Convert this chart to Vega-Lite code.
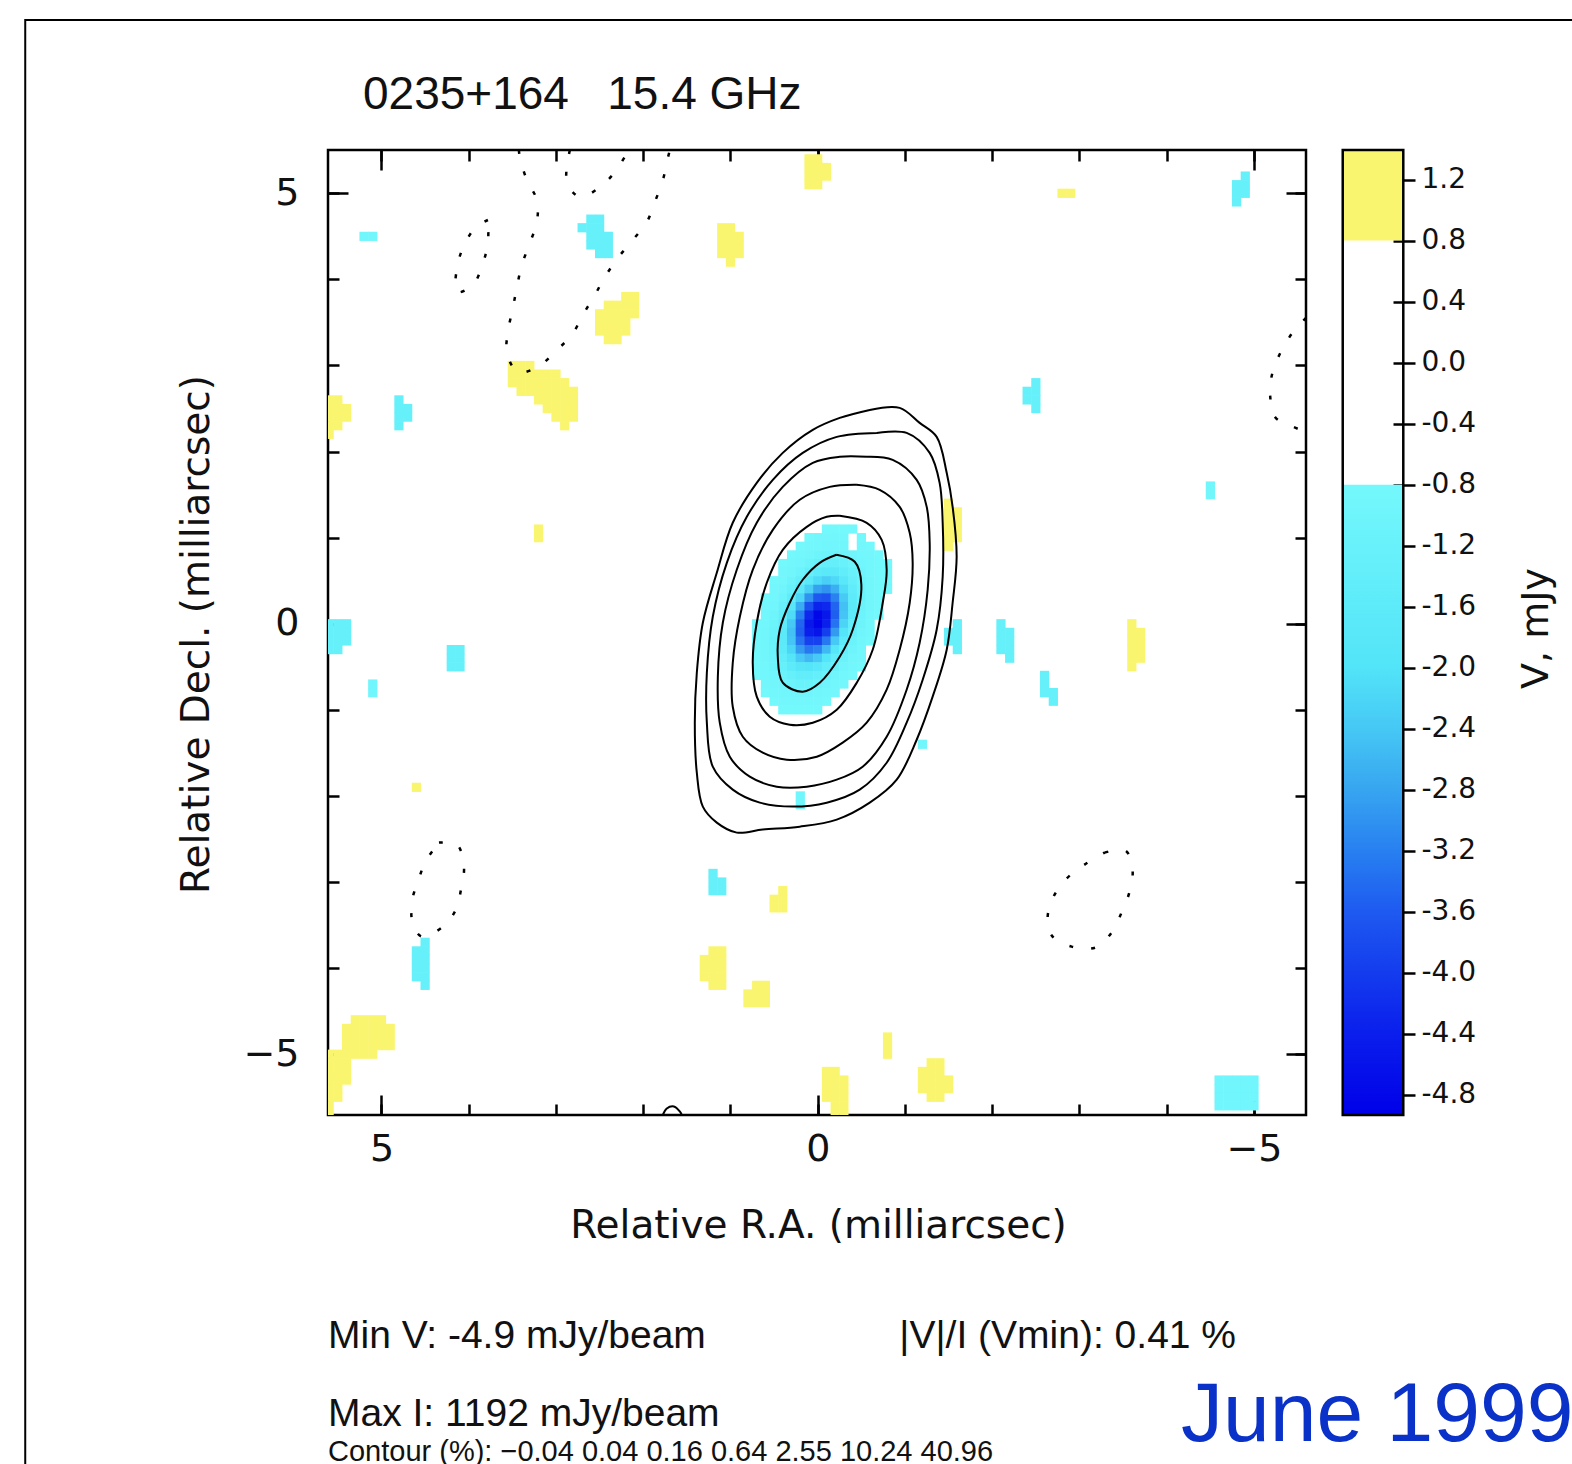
{
  "$schema": "https://vega.github.io/schema/vega-lite/v6.json",
  "usermeta": {"embedOptions": {"actions": false}},
  "background": "white",
  "padding": {"left": 24, "top": 19, "right": 0, "bottom": 0},
  "width": 978,
  "height": 965,
  "config": {
    "view": {"stroke": "black", "strokeWidth": 2.5},
    "font": "DejaVu Sans",
    "axis": {"domain": false, "grid": false, "labelFont": "DejaVu Sans", "titleFont": "DejaVu Sans", "labelColor": "#111111", "titleColor": "#111111", "tickColor": "black", "tickWidth": 2.5, "titleFontWeight": "normal"}
  },
  "datasets": {
    "cells": [
      {"x":-0.1,"y":1.1,"v":-0.82},{"x":-0.2,"y":1.1,"v":-0.82},{"x":-0.3,"y":1.1,"v":-0.82},{"x":-0.4,"y":1.1,"v":-0.82},
      {"x":0.1,"y":1.0,"v":-0.82},{"x":0,"y":1.0,"v":-0.84},{"x":-0.1,"y":1.0,"v":-0.85},{"x":-0.2,"y":1.0,"v":-0.86},{"x":-0.3,"y":1.0,"v":-0.85},{"x":-0.5,"y":1.0,"v":-0.83},
      {"x":0.2,"y":0.9,"v":-0.83},{"x":0.1,"y":0.9,"v":-0.85},{"x":0,"y":0.9,"v":-0.88},{"x":-0.1,"y":0.9,"v":-0.92},{"x":-0.2,"y":0.9,"v":-0.93},{"x":-0.3,"y":0.9,"v":-0.92},{"x":-0.5,"y":0.9,"v":-0.85},{"x":-0.6,"y":0.9,"v":-0.82},
      {"x":0.3,"y":0.8,"v":-0.82},{"x":0.2,"y":0.8,"v":-0.86},{"x":0.1,"y":0.8,"v":-0.92},{"x":0,"y":0.8,"v":-1.0},{"x":-0.1,"y":0.8,"v":-1.05},{"x":-0.2,"y":0.8,"v":-1.06},{"x":-0.3,"y":0.8,"v":-1.02},{"x":-0.4,"y":0.8,"v":-0.96},{"x":-0.5,"y":0.8,"v":-0.88},{"x":-0.6,"y":0.8,"v":-0.84},{"x":-0.7,"y":0.8,"v":-0.82},
      {"x":0.4,"y":0.7,"v":-0.82},{"x":0.3,"y":0.7,"v":-0.86},{"x":0.2,"y":0.7,"v":-0.94},{"x":0.1,"y":0.7,"v":-1.06},{"x":0,"y":0.7,"v":-1.21},{"x":-0.1,"y":0.7,"v":-1.32},{"x":-0.2,"y":0.7,"v":-1.32},{"x":-0.3,"y":0.7,"v":-1.22},{"x":-0.4,"y":0.7,"v":-1.06},{"x":-0.5,"y":0.7,"v":-0.94},{"x":-0.6,"y":0.7,"v":-0.86},{"x":-0.7,"y":0.7,"v":-0.82},{"x":-0.8,"y":0.7,"v":-0.82},
      {"x":0.4,"y":0.6,"v":-0.84},{"x":0.3,"y":0.6,"v":-0.92},{"x":0.2,"y":0.6,"v":-1.08},{"x":0.1,"y":0.6,"v":-1.32},{"x":0,"y":0.6,"v":-1.58},{"x":-0.1,"y":0.6,"v":-1.72},{"x":-0.2,"y":0.6,"v":-1.69},{"x":-0.3,"y":0.6,"v":-1.47},{"x":-0.4,"y":0.6,"v":-1.21},{"x":-0.5,"y":0.6,"v":-1.0},{"x":-0.6,"y":0.6,"v":-0.88},{"x":-0.7,"y":0.6,"v":-0.83},{"x":-0.8,"y":0.6,"v":-0.82},
      {"x":0.5,"y":0.5,"v":-0.83},{"x":0.4,"y":0.5,"v":-0.89},{"x":0.3,"y":0.5,"v":-1.04},{"x":0.2,"y":0.5,"v":-1.33},{"x":0.1,"y":0.5,"v":-1.73},{"x":0,"y":0.5,"v":-2.13},{"x":-0.1,"y":0.5,"v":-2.3},{"x":-0.2,"y":0.5,"v":-2.16},{"x":-0.3,"y":0.5,"v":-1.79},{"x":-0.4,"y":0.5,"v":-1.37},{"x":-0.5,"y":0.5,"v":-1.07},{"x":-0.6,"y":0.5,"v":-0.9},{"x":-0.7,"y":0.5,"v":-0.83},{"x":-0.8,"y":0.5,"v":-0.82},
      {"x":0.5,"y":0.4,"v":-0.85},{"x":0.4,"y":0.4,"v":-0.96},{"x":0.3,"y":0.4,"v":-1.23},{"x":0.2,"y":0.4,"v":-1.7},{"x":0.1,"y":0.4,"v":-2.31},{"x":0,"y":0.4,"v":-2.84},{"x":-0.1,"y":0.4,"v":-2.99},{"x":-0.2,"y":0.4,"v":-2.69},{"x":-0.3,"y":0.4,"v":-2.11},{"x":-0.4,"y":0.4,"v":-1.52},{"x":-0.5,"y":0.4,"v":-1.12},{"x":-0.6,"y":0.4,"v":-0.91},{"x":-0.7,"y":0.4,"v":-0.83},{"x":-0.8,"y":0.4,"v":-0.82},
      {"x":0.6,"y":0.3,"v":-0.82},{"x":0.5,"y":0.3,"v":-0.89},{"x":0.4,"y":0.3,"v":-1.08},{"x":0.3,"y":0.3,"v":-1.49},{"x":0.2,"y":0.3,"v":-2.18},{"x":0.1,"y":0.3,"v":-3.0},{"x":0,"y":0.3,"v":-3.63},{"x":-0.1,"y":0.3,"v":-3.69},{"x":-0.2,"y":0.3,"v":-3.18},{"x":-0.3,"y":0.3,"v":-2.36},{"x":-0.4,"y":0.3,"v":-1.62},{"x":-0.5,"y":0.3,"v":-1.14},{"x":-0.6,"y":0.3,"v":-0.91},{"x":-0.7,"y":0.3,"v":-0.83},
      {"x":0.6,"y":0.2,"v":-0.84},{"x":0.5,"y":0.2,"v":-0.94},{"x":0.4,"y":0.2,"v":-1.23},{"x":0.3,"y":0.2,"v":-1.81},{"x":0.2,"y":0.2,"v":-2.72},{"x":0.1,"y":0.2,"v":-3.71},{"x":0,"y":0.2,"v":-4.33},{"x":-0.1,"y":0.2,"v":-4.25},{"x":-0.2,"y":0.2,"v":-3.49},{"x":-0.3,"y":0.2,"v":-2.48},{"x":-0.4,"y":0.2,"v":-1.64},{"x":-0.5,"y":0.2,"v":-1.13},{"x":-0.6,"y":0.2,"v":-0.91},{"x":-0.7,"y":0.2,"v":-0.83},
      {"x":0.6,"y":0.1,"v":-0.86},{"x":0.5,"y":0.1,"v":-1.01},{"x":0.4,"y":0.1,"v":-1.39},{"x":0.3,"y":0.1,"v":-2.12},{"x":0.2,"y":0.1,"v":-3.19},{"x":0.1,"y":0.1,"v":-4.25},{"x":0,"y":0.1,"v":-4.8},{"x":-0.1,"y":0.1,"v":-4.51},{"x":-0.2,"y":0.1,"v":-3.55},{"x":-0.3,"y":0.1,"v":-2.44},{"x":-0.4,"y":0.1,"v":-1.58},{"x":-0.5,"y":0.1,"v":-1.1},{"x":-0.6,"y":0.1,"v":-0.89},{"x":-0.7,"y":0.1,"v":-0.82},
      {"x":0.7,"y":0,"v":-0.82},{"x":0.6,"y":0,"v":-0.88},{"x":0.5,"y":0,"v":-1.07},{"x":0.4,"y":0,"v":-1.53},{"x":0.3,"y":0,"v":-2.38},{"x":0.2,"y":0,"v":-3.5},{"x":0.1,"y":0,"v":-4.51},{"x":0,"y":0,"v":-4.88},{"x":-0.1,"y":0,"v":-4.4},{"x":-0.2,"y":0,"v":-3.34},{"x":-0.3,"y":0,"v":-2.23},{"x":-0.4,"y":0,"v":-1.45},{"x":-0.5,"y":0,"v":-1.03},{"x":-0.6,"y":0,"v":-0.87},
      {"x":0.7,"y":-0.1,"v":-0.83},{"x":0.6,"y":-0.1,"v":-0.9},{"x":0.5,"y":-0.1,"v":-1.12},{"x":0.4,"y":-0.1,"v":-1.63},{"x":0.3,"y":-0.1,"v":-2.48},{"x":0.2,"y":-0.1,"v":-3.55},{"x":0.1,"y":-0.1,"v":-4.4},{"x":0,"y":-0.1,"v":-4.56},{"x":-0.1,"y":-0.1,"v":-3.96},{"x":-0.2,"y":-0.1,"v":-2.92},{"x":-0.3,"y":-0.1,"v":-1.94},{"x":-0.4,"y":-0.1,"v":-1.29},{"x":-0.5,"y":-0.1,"v":-0.97},{"x":-0.6,"y":-0.1,"v":-0.85},
      {"x":0.7,"y":-0.2,"v":-0.83},{"x":0.6,"y":-0.2,"v":-0.91},{"x":0.5,"y":-0.2,"v":-1.14},{"x":0.4,"y":-0.2,"v":-1.64},{"x":0.3,"y":-0.2,"v":-2.43},{"x":0.2,"y":-0.2,"v":-3.33},{"x":0.1,"y":-0.2,"v":-3.94},{"x":0,"y":-0.2,"v":-3.93},{"x":-0.1,"y":-0.2,"v":-3.29},{"x":-0.2,"y":-0.2,"v":-2.39},{"x":-0.3,"y":-0.2,"v":-1.62},{"x":-0.4,"y":-0.2,"v":-1.13},{"x":-0.5,"y":-0.2,"v":-0.91},{"x":-0.6,"y":-0.2,"v":-0.83},
      {"x":0.7,"y":-0.3,"v":-0.83},{"x":0.6,"y":-0.3,"v":-0.91},{"x":0.5,"y":-0.3,"v":-1.13},{"x":0.4,"y":-0.3,"v":-1.57},{"x":0.3,"y":-0.3,"v":-2.22},{"x":0.2,"y":-0.3,"v":-2.9},{"x":0.1,"y":-0.3,"v":-3.29},{"x":0,"y":-0.3,"v":-3.15},{"x":-0.1,"y":-0.3,"v":-2.58},{"x":-0.2,"y":-0.3,"v":-1.88},{"x":-0.3,"y":-0.3,"v":-1.32},{"x":-0.4,"y":-0.3,"v":-1.0},{"x":-0.5,"y":-0.3,"v":-0.86},
      {"x":0.7,"y":-0.4,"v":-0.83},{"x":0.6,"y":-0.4,"v":-0.91},{"x":0.5,"y":-0.4,"v":-1.09},{"x":0.4,"y":-0.4,"v":-1.44},{"x":0.3,"y":-0.4,"v":-1.92},{"x":0.2,"y":-0.4,"v":-2.37},{"x":0.1,"y":-0.4,"v":-2.57},{"x":0,"y":-0.4,"v":-2.39},{"x":-0.1,"y":-0.4,"v":-1.95},{"x":-0.2,"y":-0.4,"v":-1.46},{"x":-0.3,"y":-0.4,"v":-1.11},{"x":-0.4,"y":-0.4,"v":-0.91},{"x":-0.5,"y":-0.4,"v":-0.84},
      {"x":0.7,"y":-0.5,"v":-0.83},{"x":0.6,"y":-0.5,"v":-0.89},{"x":0.5,"y":-0.5,"v":-1.03},{"x":0.4,"y":-0.5,"v":-1.28},{"x":0.3,"y":-0.5,"v":-1.59},{"x":0.2,"y":-0.5,"v":-1.86},{"x":0.1,"y":-0.5,"v":-1.94},{"x":0,"y":-0.5,"v":-1.77},{"x":-0.1,"y":-0.5,"v":-1.46},{"x":-0.2,"y":-0.5,"v":-1.17},{"x":-0.3,"y":-0.5,"v":-0.96},{"x":-0.4,"y":-0.5,"v":-0.86},{"x":-0.5,"y":-0.5,"v":-0.82},
      {"x":0.7,"y":-0.6,"v":-0.82},{"x":0.6,"y":-0.6,"v":-0.87},{"x":0.5,"y":-0.6,"v":-0.96},{"x":0.4,"y":-0.6,"v":-1.12},{"x":0.3,"y":-0.6,"v":-1.31},{"x":0.2,"y":-0.6,"v":-1.45},{"x":0.1,"y":-0.6,"v":-1.46},{"x":0,"y":-0.6,"v":-1.34},{"x":-0.1,"y":-0.6,"v":-1.15},{"x":-0.2,"y":-0.6,"v":-0.98},{"x":-0.3,"y":-0.6,"v":-0.88},{"x":-0.4,"y":-0.6,"v":-0.83},
      {"x":0.6,"y":-0.7,"v":-0.84},{"x":0.5,"y":-0.7,"v":-0.9},{"x":0.4,"y":-0.7,"v":-0.99},{"x":0.3,"y":-0.7,"v":-1.1},{"x":0.2,"y":-0.7,"v":-1.15},{"x":0.1,"y":-0.7,"v":-1.14},{"x":0,"y":-0.7,"v":-1.07},{"x":-0.1,"y":-0.7,"v":-0.97},{"x":-0.2,"y":-0.7,"v":-0.88},{"x":-0.3,"y":-0.7,"v":-0.84},
      {"x":0.6,"y":-0.8,"v":-0.83},{"x":0.5,"y":-0.8,"v":-0.86},{"x":0.4,"y":-0.8,"v":-0.91},{"x":0.3,"y":-0.8,"v":-0.95},{"x":0.2,"y":-0.8,"v":-0.98},{"x":0.1,"y":-0.8,"v":-0.96},{"x":0,"y":-0.8,"v":-0.92},{"x":-0.1,"y":-0.8,"v":-0.87},{"x":-0.2,"y":-0.8,"v":-0.84},
      {"x":0.5,"y":-0.9,"v":-0.83},{"x":0.4,"y":-0.9,"v":-0.85},{"x":0.3,"y":-0.9,"v":-0.87},{"x":0.2,"y":-0.9,"v":-0.88},{"x":0.1,"y":-0.9,"v":-0.87},{"x":0,"y":-0.9,"v":-0.85},{"x":-0.1,"y":-0.9,"v":-0.83},
      {"x":0.4,"y":-1.0,"v":-0.82},{"x":0.3,"y":-1.0,"v":-0.83},{"x":0.2,"y":-1.0,"v":-0.83},{"x":0.1,"y":-1.0,"v":-0.83},{"x":0,"y":-1.0,"v":-0.82},

      {"x":0.1,"y":5.4,"v":1},{"x":0,"y":5.4,"v":1},{"x":0.1,"y":5.3,"v":1},{"x":0,"y":5.3,"v":1},{"x":-0.1,"y":5.3,"v":1},{"x":0.1,"y":5.2,"v":1},{"x":0,"y":5.2,"v":1},{"x":-0.1,"y":5.2,"v":1},{"x":0.1,"y":5.1,"v":1},{"x":0,"y":5.1,"v":1},
      {"x":-2.8,"y":5.0,"v":0.9},{"x":-2.9,"y":5.0,"v":0.9},
      {"x":1.1,"y":4.6,"v":1},{"x":1.0,"y":4.6,"v":1},{"x":1.1,"y":4.5,"v":1},{"x":1.0,"y":4.5,"v":1},{"x":0.9,"y":4.5,"v":1},{"x":1.1,"y":4.4,"v":1},{"x":1.0,"y":4.4,"v":1},{"x":0.9,"y":4.4,"v":1},{"x":1.1,"y":4.3,"v":1},{"x":1.0,"y":4.3,"v":1},{"x":0.9,"y":4.3,"v":1},{"x":1.0,"y":4.2,"v":1},
      {"x":2.2,"y":3.8,"v":1},{"x":2.1,"y":3.8,"v":1},{"x":2.4,"y":3.7,"v":1},{"x":2.3,"y":3.7,"v":1},{"x":2.2,"y":3.7,"v":1},{"x":2.1,"y":3.7,"v":1},{"x":2.5,"y":3.6,"v":1},{"x":2.4,"y":3.6,"v":1},{"x":2.3,"y":3.6,"v":1},{"x":2.2,"y":3.6,"v":1},{"x":2.1,"y":3.6,"v":1},{"x":2.5,"y":3.5,"v":1},{"x":2.4,"y":3.5,"v":1},{"x":2.3,"y":3.5,"v":1},{"x":2.2,"y":3.5,"v":1},{"x":2.5,"y":3.4,"v":1},{"x":2.4,"y":3.4,"v":1},{"x":2.3,"y":3.4,"v":1},{"x":2.2,"y":3.4,"v":1},{"x":2.4,"y":3.3,"v":1},{"x":2.3,"y":3.3,"v":1},
      {"x":3.5,"y":3.0,"v":1},{"x":3.4,"y":3.0,"v":1},{"x":3.3,"y":3.0,"v":1},
      {"x":3.5,"y":2.9,"v":1},{"x":3.4,"y":2.9,"v":1},{"x":3.3,"y":2.9,"v":1},{"x":3.2,"y":2.9,"v":1},{"x":3.1,"y":2.9,"v":1},{"x":3.0,"y":2.9,"v":1},
      {"x":3.5,"y":2.8,"v":1},{"x":3.4,"y":2.8,"v":1},{"x":3.3,"y":2.8,"v":1},{"x":3.2,"y":2.8,"v":1},{"x":3.1,"y":2.8,"v":1},{"x":3.0,"y":2.8,"v":1},{"x":2.9,"y":2.8,"v":1},
      {"x":3.4,"y":2.7,"v":1},{"x":3.3,"y":2.7,"v":1},{"x":3.2,"y":2.7,"v":1},{"x":3.1,"y":2.7,"v":1},{"x":3.0,"y":2.7,"v":1},{"x":2.9,"y":2.7,"v":1},{"x":2.8,"y":2.7,"v":1},
      {"x":3.2,"y":2.6,"v":1},{"x":3.1,"y":2.6,"v":1},{"x":3.0,"y":2.6,"v":1},{"x":2.9,"y":2.6,"v":1},{"x":2.8,"y":2.6,"v":1},
      {"x":3.1,"y":2.5,"v":1},{"x":3.0,"y":2.5,"v":1},{"x":2.9,"y":2.5,"v":1},{"x":2.8,"y":2.5,"v":1},
      {"x":3.0,"y":2.4,"v":1},{"x":2.9,"y":2.4,"v":1},{"x":2.8,"y":2.4,"v":1},{"x":2.9,"y":2.3,"v":1},
      {"x":5.6,"y":2.6,"v":1},{"x":5.5,"y":2.6,"v":1},{"x":5.6,"y":2.5,"v":1},{"x":5.5,"y":2.5,"v":1},{"x":5.4,"y":2.5,"v":1},{"x":5.6,"y":2.4,"v":1},{"x":5.5,"y":2.4,"v":1},{"x":5.4,"y":2.4,"v":1},{"x":5.6,"y":2.3,"v":1},{"x":5.5,"y":2.3,"v":1},{"x":5.6,"y":2.2,"v":1},
      {"x":3.2,"y":1.1,"v":0.9},{"x":3.2,"y":1.0,"v":0.9},
      {"x":-1.5,"y":1.4,"v":1},{"x":-1.5,"y":1.3,"v":1},{"x":-1.6,"y":1.3,"v":1},{"x":-1.5,"y":1.2,"v":1},{"x":-1.6,"y":1.2,"v":1},{"x":-1.5,"y":1.1,"v":1},{"x":-1.6,"y":1.1,"v":1},{"x":-1.5,"y":1.0,"v":1},{"x":-1.6,"y":1.0,"v":1},{"x":-1.5,"y":0.9,"v":1},
      {"x":-3.6,"y":0,"v":1},{"x":-3.6,"y":-0.1,"v":1},{"x":-3.7,"y":-0.1,"v":1},{"x":-3.6,"y":-0.2,"v":1},{"x":-3.7,"y":-0.2,"v":1},{"x":-3.6,"y":-0.3,"v":1},{"x":-3.7,"y":-0.3,"v":1},{"x":-3.6,"y":-0.4,"v":1},{"x":-3.7,"y":-0.4,"v":1},{"x":-3.6,"y":-0.5,"v":1},
      {"x":4.6,"y":-1.9,"v":0.9},
      {"x":0.4,"y":-3.1,"v":1},{"x":0.4,"y":-3.2,"v":1},{"x":0.5,"y":-3.2,"v":1},{"x":0.4,"y":-3.3,"v":1},{"x":0.5,"y":-3.3,"v":1},
      {"x":1.2,"y":-3.8,"v":1},{"x":1.1,"y":-3.8,"v":1},{"x":1.3,"y":-3.9,"v":1},{"x":1.2,"y":-3.9,"v":1},{"x":1.1,"y":-3.9,"v":1},{"x":1.3,"y":-4.0,"v":1},{"x":1.2,"y":-4.0,"v":1},{"x":1.1,"y":-4.0,"v":1},{"x":1.3,"y":-4.1,"v":1},{"x":1.2,"y":-4.1,"v":1},{"x":1.1,"y":-4.1,"v":1},{"x":1.2,"y":-4.2,"v":1},{"x":1.1,"y":-4.2,"v":1},
      {"x":0.7,"y":-4.2,"v":1},{"x":0.6,"y":-4.2,"v":1},{"x":0.8,"y":-4.3,"v":1},{"x":0.7,"y":-4.3,"v":1},{"x":0.6,"y":-4.3,"v":1},{"x":0.8,"y":-4.4,"v":1},{"x":0.7,"y":-4.4,"v":1},{"x":0.6,"y":-4.4,"v":1},
      {"x":5.3,"y":-4.6,"v":1},{"x":5.2,"y":-4.6,"v":1},{"x":5.1,"y":-4.6,"v":1},{"x":5.0,"y":-4.6,"v":1},
      {"x":5.4,"y":-4.7,"v":1},{"x":5.3,"y":-4.7,"v":1},{"x":5.2,"y":-4.7,"v":1},{"x":5.1,"y":-4.7,"v":1},{"x":5.0,"y":-4.7,"v":1},{"x":4.9,"y":-4.7,"v":1},
      {"x":5.4,"y":-4.8,"v":1},{"x":5.3,"y":-4.8,"v":1},{"x":5.2,"y":-4.8,"v":1},{"x":5.1,"y":-4.8,"v":1},{"x":5.0,"y":-4.8,"v":1},{"x":4.9,"y":-4.8,"v":1},
      {"x":5.4,"y":-4.9,"v":1},{"x":5.3,"y":-4.9,"v":1},{"x":5.2,"y":-4.9,"v":1},{"x":5.1,"y":-4.9,"v":1},{"x":5.0,"y":-4.9,"v":1},{"x":4.9,"y":-4.9,"v":1},
      {"x":5.6,"y":-5.0,"v":1},{"x":5.5,"y":-5.0,"v":1},{"x":5.4,"y":-5.0,"v":1},{"x":5.3,"y":-5.0,"v":1},{"x":5.2,"y":-5.0,"v":1},{"x":5.1,"y":-5.0,"v":1},
      {"x":5.6,"y":-5.1,"v":1},{"x":5.5,"y":-5.1,"v":1},{"x":5.4,"y":-5.1,"v":1},{"x":5.6,"y":-5.2,"v":1},{"x":5.5,"y":-5.2,"v":1},{"x":5.4,"y":-5.2,"v":1},{"x":5.6,"y":-5.3,"v":1},{"x":5.5,"y":-5.3,"v":1},{"x":5.4,"y":-5.3,"v":1},
      {"x":5.6,"y":-5.4,"v":1},{"x":5.5,"y":-5.4,"v":1},{"x":5.6,"y":-5.5,"v":1},{"x":5.5,"y":-5.5,"v":1},{"x":5.6,"y":-5.6,"v":1},{"x":5.6,"y":-5.7,"v":1},
      {"x":-0.8,"y":-4.8,"v":0.9},{"x":-0.8,"y":-4.9,"v":0.9},{"x":-0.8,"y":-5.0,"v":0.9},
      {"x":-0.1,"y":-5.2,"v":1},{"x":-0.2,"y":-5.2,"v":1},{"x":-0.1,"y":-5.3,"v":1},{"x":-0.2,"y":-5.3,"v":1},{"x":-0.3,"y":-5.3,"v":1},{"x":-0.1,"y":-5.4,"v":1},{"x":-0.2,"y":-5.4,"v":1},{"x":-0.3,"y":-5.4,"v":1},{"x":-0.1,"y":-5.5,"v":1},{"x":-0.2,"y":-5.5,"v":1},{"x":-0.3,"y":-5.5,"v":1},{"x":-0.2,"y":-5.6,"v":1},{"x":-0.3,"y":-5.6,"v":1},{"x":-0.2,"y":-5.7,"v":1},{"x":-0.3,"y":-5.7,"v":1},
      {"x":-1.3,"y":-5.1,"v":1},{"x":-1.4,"y":-5.1,"v":1},{"x":-1.2,"y":-5.2,"v":1},{"x":-1.3,"y":-5.2,"v":1},{"x":-1.4,"y":-5.2,"v":1},{"x":-1.2,"y":-5.3,"v":1},{"x":-1.3,"y":-5.3,"v":1},{"x":-1.4,"y":-5.3,"v":1},{"x":-1.5,"y":-5.3,"v":1},{"x":-1.2,"y":-5.4,"v":1},{"x":-1.3,"y":-5.4,"v":1},{"x":-1.4,"y":-5.4,"v":1},{"x":-1.5,"y":-5.4,"v":1},{"x":-1.3,"y":-5.5,"v":1},{"x":-1.4,"y":-5.5,"v":1},

      {"x":-4.9,"y":5.2,"v":-1.3},{"x":-4.8,"y":5.1,"v":-1.3},{"x":-4.9,"y":5.1,"v":-1.3},{"x":-4.8,"y":5.0,"v":-1.3},{"x":-4.9,"y":5.0,"v":-1.3},{"x":-4.8,"y":4.9,"v":-1.3},
      {"x":5.2,"y":4.5,"v":-0.9},{"x":5.1,"y":4.5,"v":-0.9},
      {"x":2.6,"y":4.7,"v":-1.3},{"x":2.5,"y":4.7,"v":-1.3},{"x":2.7,"y":4.6,"v":-1.3},{"x":2.6,"y":4.6,"v":-1.3},{"x":2.5,"y":4.6,"v":-1.3},{"x":2.6,"y":4.5,"v":-1.3},{"x":2.5,"y":4.5,"v":-1.3},{"x":2.4,"y":4.5,"v":-1.3},{"x":2.6,"y":4.4,"v":-1.3},{"x":2.5,"y":4.4,"v":-1.3},{"x":2.4,"y":4.4,"v":-1.3},{"x":2.5,"y":4.3,"v":-1.3},{"x":2.4,"y":4.3,"v":-1.3},
      {"x":4.8,"y":2.6,"v":-1.3},{"x":4.8,"y":2.5,"v":-1.3},{"x":4.7,"y":2.5,"v":-1.3},{"x":4.8,"y":2.4,"v":-1.3},{"x":4.7,"y":2.4,"v":-1.3},{"x":4.8,"y":2.3,"v":-1.3},
      {"x":-2.5,"y":2.8,"v":-1.3},{"x":-2.4,"y":2.7,"v":-1.3},{"x":-2.5,"y":2.7,"v":-1.3},{"x":-2.4,"y":2.6,"v":-1.3},{"x":-2.5,"y":2.6,"v":-1.3},{"x":-2.5,"y":2.5,"v":-1.3},
      {"x":-4.5,"y":1.6,"v":-0.9},{"x":-4.5,"y":1.5,"v":-0.9},
      {"x":5.6,"y":0,"v":-1.3},{"x":5.5,"y":0,"v":-1.3},{"x":5.4,"y":0,"v":-1.3},{"x":5.6,"y":-0.1,"v":-1.3},{"x":5.5,"y":-0.1,"v":-1.3},{"x":5.4,"y":-0.1,"v":-1.3},{"x":5.6,"y":-0.2,"v":-1.3},{"x":5.5,"y":-0.2,"v":-1.3},{"x":5.4,"y":-0.2,"v":-1.3},{"x":5.6,"y":-0.3,"v":-1.3},{"x":5.5,"y":-0.3,"v":-1.3},
      {"x":4.2,"y":-0.3,"v":-1.3},{"x":4.1,"y":-0.3,"v":-1.3},{"x":4.2,"y":-0.4,"v":-1.3},{"x":4.1,"y":-0.4,"v":-1.3},{"x":4.2,"y":-0.5,"v":-1.3},{"x":4.1,"y":-0.5,"v":-1.3},
      {"x":5.1,"y":-0.7,"v":-0.95},{"x":5.1,"y":-0.8,"v":-0.95},
      {"x":-1.6,"y":0,"v":-1.3},{"x":-1.5,"y":-0.1,"v":-1.3},{"x":-1.6,"y":-0.1,"v":-1.3},{"x":-1.5,"y":-0.2,"v":-1.3},{"x":-1.6,"y":-0.2,"v":-1.3},{"x":-1.6,"y":-0.3,"v":-1.3},
      {"x":-2.1,"y":0,"v":-1.3},{"x":-2.1,"y":-0.1,"v":-1.3},{"x":-2.2,"y":-0.1,"v":-1.3},{"x":-2.1,"y":-0.2,"v":-1.3},{"x":-2.2,"y":-0.2,"v":-1.3},{"x":-2.1,"y":-0.3,"v":-1.3},{"x":-2.2,"y":-0.3,"v":-1.3},{"x":-2.2,"y":-0.4,"v":-1.3},
      {"x":-2.6,"y":-0.6,"v":-1.3},{"x":-2.6,"y":-0.7,"v":-1.3},{"x":-2.6,"y":-0.8,"v":-1.3},{"x":-2.7,"y":-0.8,"v":-1.3},{"x":-2.7,"y":-0.9,"v":-1.3},
      {"x":-1.2,"y":-1.4,"v":-0.9},
      {"x":0.2,"y":-2.0,"v":-0.9},{"x":0.2,"y":-2.1,"v":-0.9},
      {"x":1.2,"y":-2.9,"v":-1.3},{"x":1.2,"y":-3.0,"v":-1.3},{"x":1.1,"y":-3.0,"v":-1.3},{"x":1.2,"y":-3.1,"v":-1.3},{"x":1.1,"y":-3.1,"v":-1.3},
      {"x":4.5,"y":-3.7,"v":-1.3},{"x":4.6,"y":-3.8,"v":-1.3},{"x":4.5,"y":-3.8,"v":-1.3},{"x":4.6,"y":-3.9,"v":-1.3},{"x":4.5,"y":-3.9,"v":-1.3},{"x":4.6,"y":-4.0,"v":-1.3},{"x":4.5,"y":-4.0,"v":-1.3},{"x":4.6,"y":-4.1,"v":-1.3},{"x":4.5,"y":-4.1,"v":-1.3},{"x":4.5,"y":-4.2,"v":-1.3},
      {"x":-4.6,"y":-5.3,"v":-0.95},{"x":-4.7,"y":-5.3,"v":-0.95},{"x":-4.8,"y":-5.3,"v":-0.95},{"x":-4.9,"y":-5.3,"v":-0.95},{"x":-5.0,"y":-5.3,"v":-0.95},
      {"x":-4.6,"y":-5.4,"v":-0.95},{"x":-4.7,"y":-5.4,"v":-0.95},{"x":-4.8,"y":-5.4,"v":-0.95},{"x":-4.9,"y":-5.4,"v":-0.95},{"x":-5.0,"y":-5.4,"v":-0.95},
      {"x":-4.6,"y":-5.5,"v":-0.95},{"x":-4.7,"y":-5.5,"v":-0.95},{"x":-4.8,"y":-5.5,"v":-0.95},{"x":-4.9,"y":-5.5,"v":-0.95},{"x":-5.0,"y":-5.5,"v":-0.95},
      {"x":-4.6,"y":-5.6,"v":-0.95},{"x":-4.7,"y":-5.6,"v":-0.95},{"x":-4.8,"y":-5.6,"v":-0.95},{"x":-4.9,"y":-5.6,"v":-0.95},{"x":-5.0,"y":-5.6,"v":-0.95}
    ],
    "pos": [
      {"c":"a","i":0,"x":-0.596,"y":2.484},{"c":"a","i":1,"x":-0.939,"y":2.508},{"c":"a","i":2,"x":-1.168,"y":2.333},{"c":"a","i":3,"x":-1.363,"y":2.171},{"c":"a","i":4,"x":-1.478,"y":1.753},{"c":"a","i":5,"x":-1.546,"y":1.358},{"c":"a","i":6,"x":-1.592,"y":0.778},{"c":"a","i":7,"x":-1.546,"y":0.244},{"c":"a","i":8,"x":-1.478,"y":-0.302},{"c":"a","i":9,"x":-1.317,"y":-0.847},{"c":"a","i":10,"x":-1.134,"y":-1.347},{"c":"a","i":11,"x":-0.905,"y":-1.811},{"c":"a","i":12,"x":-0.596,"y":-2.078},{"c":"a","i":13,"x":-0.218,"y":-2.275},{"c":"a","i":14,"x":0.206,"y":-2.357},{"c":"a","i":15,"x":0.63,"y":-2.391},{"c":"a","i":16,"x":0.928,"y":-2.426},{"c":"a","i":17,"x":1.157,"y":-2.31},{"c":"a","i":18,"x":1.317,"y":-2.124},{"c":"a","i":19,"x":1.386,"y":-1.73},{"c":"a","i":20,"x":1.409,"y":-1.149},{"c":"a","i":21,"x":1.386,"y":-0.569},{"c":"a","i":22,"x":1.317,"y":0.012},{"c":"a","i":23,"x":1.157,"y":0.592},{"c":"a","i":24,"x":0.974,"y":1.173},{"c":"a","i":25,"x":0.699,"y":1.637},{"c":"a","i":26,"x":0.401,"y":1.985},{"c":"a","i":27,"x":0.057,"y":2.252},{"c":"a","i":28,"x":-0.252,"y":2.391},{"c":"a","i":29,"x":-0.596,"y":2.484},
      {"c":"b","i":0,"x":-0.676,"y":2.217},{"c":"b","i":1,"x":-1.019,"y":2.217},{"c":"b","i":2,"x":-1.283,"y":1.985},{"c":"b","i":3,"x":-1.397,"y":1.637},{"c":"b","i":4,"x":-1.432,"y":1.173},{"c":"b","i":5,"x":-1.432,"y":0.546},{"c":"b","i":6,"x":-1.363,"y":-0.07},{"c":"b","i":7,"x":-1.203,"y":-0.65},{"c":"b","i":8,"x":-1.019,"y":-1.149},{"c":"b","i":9,"x":-0.79,"y":-1.614},{"c":"b","i":10,"x":-0.481,"y":-1.927},{"c":"b","i":11,"x":-0.103,"y":-2.078},{"c":"b","i":12,"x":0.286,"y":-2.124},{"c":"b","i":13,"x":0.664,"y":-2.078},{"c":"b","i":14,"x":0.974,"y":-1.927},{"c":"b","i":15,"x":1.203,"y":-1.66},{"c":"b","i":16,"x":1.271,"y":-1.149},{"c":"b","i":17,"x":1.271,"y":-0.569},{"c":"b","i":18,"x":1.203,"y":0.081},{"c":"b","i":19,"x":1.042,"y":0.708},{"c":"b","i":20,"x":0.813,"y":1.242},{"c":"b","i":21,"x":0.515,"y":1.672},{"c":"b","i":22,"x":0.172,"y":1.985},{"c":"b","i":23,"x":-0.218,"y":2.171},{"c":"b","i":24,"x":-0.676,"y":2.217},
      {"c":"c","i":0,"x":-0.561,"y":1.939},{"c":"c","i":1,"x":-0.859,"y":1.904},{"c":"c","i":2,"x":-1.134,"y":1.672},{"c":"c","i":3,"x":-1.249,"y":1.358},{"c":"c","i":4,"x":-1.283,"y":0.94},{"c":"c","i":5,"x":-1.26,"y":0.395},{"c":"c","i":6,"x":-1.168,"y":-0.221},{"c":"c","i":7,"x":-1.019,"y":-0.766},{"c":"c","i":8,"x":-0.79,"y":-1.312},{"c":"c","i":9,"x":-0.515,"y":-1.66},{"c":"c","i":10,"x":-0.218,"y":-1.811},{"c":"c","i":11,"x":0.126,"y":-1.892},{"c":"c","i":12,"x":0.47,"y":-1.892},{"c":"c","i":13,"x":0.779,"y":-1.776},{"c":"c","i":14,"x":1.008,"y":-1.544},{"c":"c","i":15,"x":1.123,"y":-1.149},{"c":"c","i":16,"x":1.145,"y":-0.615},{"c":"c","i":17,"x":1.088,"y":0.012},{"c":"c","i":18,"x":0.928,"y":0.627},{"c":"c","i":19,"x":0.699,"y":1.173},{"c":"c","i":20,"x":0.401,"y":1.59},{"c":"c","i":21,"x":0.057,"y":1.869},{"c":"c","i":22,"x":-0.252,"y":1.939},{"c":"c","i":23,"x":-0.561,"y":1.939},
      {"c":"d","i":0,"x":-0.447,"y":1.614},{"c":"d","i":1,"x":-0.71,"y":1.556},{"c":"d","i":2,"x":-0.939,"y":1.358},{"c":"d","i":3,"x":-1.054,"y":1.056},{"c":"d","i":4,"x":-1.088,"y":0.708},{"c":"d","i":5,"x":-1.054,"y":0.244},{"c":"d","i":6,"x":-0.939,"y":-0.302},{"c":"d","i":7,"x":-0.79,"y":-0.766},{"c":"d","i":8,"x":-0.561,"y":-1.149},{"c":"d","i":9,"x":-0.286,"y":-1.381},{"c":"d","i":10,"x":0.011,"y":-1.544},{"c":"d","i":11,"x":0.355,"y":-1.579},{"c":"d","i":12,"x":0.63,"y":-1.498},{"c":"d","i":13,"x":0.859,"y":-1.312},{"c":"d","i":14,"x":0.974,"y":-0.964},{"c":"d","i":15,"x":0.974,"y":-0.453},{"c":"d","i":16,"x":0.893,"y":0.081},{"c":"d","i":17,"x":0.745,"y":0.627},{"c":"d","i":18,"x":0.515,"y":1.091},{"c":"d","i":19,"x":0.206,"y":1.44},{"c":"d","i":20,"x":-0.137,"y":1.59},{"c":"d","i":21,"x":-0.447,"y":1.614},
      {"c":"e","i":0,"x":-0.252,"y":1.254},{"c":"e","i":1,"x":-0.561,"y":1.173},{"c":"e","i":2,"x":-0.733,"y":0.975},{"c":"e","i":3,"x":-0.79,"y":0.627},{"c":"e","i":4,"x":-0.745,"y":0.244},{"c":"e","i":5,"x":-0.63,"y":-0.302},{"c":"e","i":6,"x":-0.447,"y":-0.685},{"c":"e","i":7,"x":-0.218,"y":-0.998},{"c":"e","i":8,"x":0.057,"y":-1.149},{"c":"e","i":9,"x":0.321,"y":-1.172},{"c":"e","i":10,"x":0.55,"y":-1.08},{"c":"e","i":11,"x":0.699,"y":-0.847},{"c":"e","i":12,"x":0.745,"y":-0.453},{"c":"e","i":13,"x":0.699,"y":0.012},{"c":"e","i":14,"x":0.584,"y":0.476},{"c":"e","i":15,"x":0.401,"y":0.859},{"c":"e","i":16,"x":0.126,"y":1.126},{"c":"e","i":17,"x":-0.103,"y":1.242},{"c":"e","i":18,"x":-0.252,"y":1.254},
      {"c":"f","i":0,"x":-0.214,"y":0.801},{"c":"f","i":1,"x":-0.424,"y":0.72},{"c":"f","i":2,"x":-0.5,"y":0.453},{"c":"f","i":3,"x":-0.401,"y":-0.07},{"c":"f","i":4,"x":-0.252,"y":-0.383},{"c":"f","i":5,"x":-0.023,"y":-0.685},{"c":"f","i":6,"x":0.172,"y":-0.789},{"c":"f","i":7,"x":0.401,"y":-0.685},{"c":"f","i":8,"x":0.458,"y":-0.383},{"c":"f","i":9,"x":0.435,"y":-0.07},{"c":"f","i":10,"x":0.321,"y":0.244},{"c":"f","i":11,"x":0.172,"y":0.511},{"c":"f","i":12,"x":-0.023,"y":0.708},{"c":"f","i":13,"x":-0.214,"y":0.801},
      {"c":"g","i":0,"x":1.776,"y":-5.706},{"c":"g","i":1,"x":1.73,"y":-5.63},{"c":"g","i":2,"x":1.649,"y":-5.607},{"c":"g","i":3,"x":1.581,"y":-5.665},{"c":"g","i":4,"x":1.558,"y":-5.706}
    ],
    "neg": [
      {"c":"na","i":0,"x":3.78,"y":4.69},{"c":"na","i":1,"x":3.929,"y":4.597},{"c":"na","i":2,"x":4.066,"y":4.365},{"c":"na","i":3,"x":4.135,"y":4.133},{"c":"na","i":4,"x":4.135,"y":3.854},{"c":"na","i":5,"x":3.952,"y":3.935},{"c":"na","i":6,"x":3.837,"y":4.191},{"c":"na","i":7,"x":3.78,"y":4.423},{"c":"na","i":8,"x":3.78,"y":4.69},
      {"c":"nb","i":0,"x":3.425,"y":5.503},{"c":"nb","i":1,"x":3.414,"y":5.41},{"c":"nb","i":2,"x":3.333,"y":5.154},{"c":"nb","i":3,"x":3.219,"y":4.922},{"c":"nb","i":4,"x":3.219,"y":4.667},{"c":"nb","i":5,"x":3.299,"y":4.423},{"c":"nb","i":6,"x":3.391,"y":4.168},{"c":"nb","i":7,"x":3.448,"y":3.912},{"c":"nb","i":8,"x":3.494,"y":3.668},{"c":"nb","i":9,"x":3.551,"y":3.39},{"c":"nb","i":10,"x":3.562,"y":3.146},{"c":"nb","i":11,"x":3.436,"y":2.925},{"c":"nb","i":12,"x":3.207,"y":2.984},{"c":"nb","i":13,"x":2.99,"y":3.181},{"c":"nb","i":14,"x":2.818,"y":3.355},{"c":"nb","i":15,"x":2.692,"y":3.587},{"c":"nb","i":16,"x":2.554,"y":3.819},{"c":"nb","i":17,"x":2.44,"y":4.028},{"c":"nb","i":18,"x":2.291,"y":4.249},{"c":"nb","i":19,"x":2.119,"y":4.458},{"c":"nb","i":20,"x":1.959,"y":4.667},{"c":"nb","i":21,"x":1.867,"y":4.899},{"c":"nb","i":22,"x":1.775,"y":5.154},{"c":"nb","i":23,"x":1.718,"y":5.41},{"c":"nb","i":24,"x":1.695,"y":5.503},
      {"c":"nc","i":0,"x":2.841,"y":5.503},{"c":"nc","i":1,"x":2.875,"y":5.131},{"c":"nc","i":2,"x":2.726,"y":4.957},{"c":"nc","i":3,"x":2.497,"y":5.073},{"c":"nc","i":4,"x":2.325,"y":5.247},{"c":"nc","i":5,"x":2.176,"y":5.479},{"c":"nc","i":6,"x":2.154,"y":5.503},
      {"c":"nd","i":0,"x":-5.596,"y":3.552},{"c":"nd","i":1,"x":-5.438,"y":3.375},{"c":"nd","i":2,"x":-5.3,"y":3.143},{"c":"nd","i":3,"x":-5.208,"y":2.902},{"c":"nd","i":4,"x":-5.186,"y":2.639},{"c":"nd","i":5,"x":-5.243,"y":2.4},{"c":"nd","i":6,"x":-5.444,"y":2.29},{"c":"nd","i":7,"x":-5.596,"y":2.229},
      {"c":"ne","i":0,"x":4.341,"y":-2.542},{"c":"ne","i":1,"x":4.135,"y":-2.566},{"c":"ne","i":2,"x":4.055,"y":-2.821},{"c":"ne","i":3,"x":4.089,"y":-3.088},{"c":"ne","i":4,"x":4.147,"y":-3.32},{"c":"ne","i":5,"x":4.296,"y":-3.518},{"c":"ne","i":6,"x":4.536,"y":-3.634},{"c":"ne","i":7,"x":4.639,"y":-3.494},{"c":"ne","i":8,"x":4.651,"y":-3.227},{"c":"ne","i":9,"x":4.582,"y":-2.995},{"c":"ne","i":10,"x":4.49,"y":-2.751},{"c":"ne","i":11,"x":4.341,"y":-2.542},
      {"c":"nf","i":0,"x":-3.288,"y":-2.658},{"c":"nf","i":1,"x":-3.528,"y":-2.635},{"c":"nf","i":2,"x":-3.608,"y":-2.856},{"c":"nf","i":3,"x":-3.574,"y":-3.111},{"c":"nf","i":4,"x":-3.482,"y":-3.355},{"c":"nf","i":5,"x":-3.368,"y":-3.587},{"c":"nf","i":6,"x":-3.184,"y":-3.761},{"c":"nf","i":7,"x":-2.91,"y":-3.75},{"c":"nf","i":8,"x":-2.692,"y":-3.634},{"c":"nf","i":9,"x":-2.635,"y":-3.413},{"c":"nf","i":10,"x":-2.703,"y":-3.169},{"c":"nf","i":11,"x":-2.852,"y":-2.96},{"c":"nf","i":12,"x":-3.058,"y":-2.798},{"c":"nf","i":13,"x":-3.288,"y":-2.658}
    ]
  },
  "layer": [
    {
      "data": {"values": [{"part": "outer frame"}]},
      "mark": {"type": "rect", "fillOpacity": 0, "stroke": "black", "strokeWidth": 2, "clip": false},
      "encoding": {
        "x": {"datum": 9.083, "type": "quantitative", "scale": {"domain": [-5.596, 5.613], "reverse": true, "nice": false, "zero": false}, "axis": {"orient": "top", "values": [5, 0, -5], "tickSize": -20, "labels": false, "title": null}},
        "x2": {"datum": -8.966},
        "y": {"datum": 7.013, "type": "quantitative", "scale": {"domain": [-5.706, 5.503], "nice": false, "zero": false}, "axis": {"orient": "right", "values": [5, 0, -5], "tickSize": -20, "labels": false, "title": null}},
        "y2": {"datum": -10.062}
      }
    },
    {
      "data": {"name": "cells"},
      "mark": {"type": "square", "size": 85, "opacity": 1, "strokeWidth": 0, "clip": true},
      "encoding": {
        "x": {"field": "x", "type": "quantitative", "scale": {"domain": [-5.596, 5.613], "reverse": true, "nice": false, "zero": false}, "axis": {"orient": "bottom", "values": [5, 0, -5], "ticks": false, "labelFontSize": 38, "labelPadding": 15, "title": "Relative R.A. (milliarcsec)", "titleFontSize": 39, "titleX": 490, "titleY": 110, "titleBaseline": "middle", "titleAlign": "center"}},
        "y": {"field": "y", "type": "quantitative", "scale": {"domain": [-5.706, 5.503], "nice": false, "zero": false}, "axis": {"orient": "left", "values": [5, 0, -5], "ticks": false, "labelFontSize": 38, "labelPadding": 29, "title": "Relative Decl. (milliarcsec)", "titleFontSize": 39, "titleX": -132, "titleY": 484, "titleAngle": 270, "titleBaseline": "middle", "titleAlign": "center"}},
        "color": {"field": "v", "type": "quantitative", "legend": null, "scale": {"type": "linear", "domain": [-4.933, -4.4, -4.0, -3.6, -3.2, -2.8, -2.4, -2.0, -0.8, 0.8, 1.4], "range": ["#0000e8", "#0a1eec", "#143cee", "#1e5af0", "#2880f0", "#37a5f0", "#46c8f5", "#52e4f8", "#74f8fc", "#faf56e", "#faf56e"], "interpolate": "rgb"}}
      }
    },
    {
      "data": {"name": "pos"},
      "mark": {"type": "line", "color": "black", "strokeWidth": 2, "interpolate": "catmull-rom", "clip": true},
      "encoding": {
        "x": {"field": "x", "type": "quantitative", "scale": {"domain": [-5.596, 5.613], "reverse": true, "nice": false, "zero": false}, "axis": {"orient": "bottom", "values": [5, 0, -5], "tickSize": -20, "labels": false, "title": null}},
        "y": {"field": "y", "type": "quantitative", "scale": {"domain": [-5.706, 5.503], "nice": false, "zero": false}, "axis": {"orient": "left", "values": [5, 0, -5], "tickSize": -20, "labels": false, "title": null}},
        "detail": {"field": "c"},
        "order": {"field": "i", "type": "quantitative"}
      }
    },
    {
      "data": {"name": "neg"},
      "mark": {"type": "line", "color": "black", "strokeWidth": 2.5, "strokeDash": [4, 18], "interpolate": "catmull-rom", "clip": true},
      "encoding": {
        "x": {"field": "x", "type": "quantitative", "scale": {"domain": [-5.596, 5.613], "reverse": true, "nice": false, "zero": false}, "axis": {"orient": "bottom", "values": [-5, -4, -3, -2, -1, 0, 1, 2, 3, 4, 5], "tickSize": -11, "labels": false, "title": null}},
        "y": {"field": "y", "type": "quantitative", "scale": {"domain": [-5.706, 5.503], "nice": false, "zero": false}, "axis": {"orient": "left", "values": [-5, -4, -3, -2, -1, 0, 1, 2, 3, 4, 5], "tickSize": -11, "labels": false, "title": null}},
        "detail": {"field": "c"},
        "order": {"field": "i", "type": "quantitative"}
      }
    },
    {
      "data": {"values": [{"label": "0235+164\u00a0\u00a0\u00a015.4 GHz"}]},
      "mark": {"type": "text", "align": "left", "baseline": "alphabetic", "font": "Liberation Sans", "fontSize": 46, "color": "#111111"},
      "encoding": {
        "x": {"datum": 5.212, "type": "quantitative", "scale": {"domain": [-5.596, 5.613], "reverse": true, "nice": false, "zero": false}, "axis": {"orient": "top", "values": [-5, -4, -3, -2, -1, 0, 1, 2, 3, 4, 5], "tickSize": -11, "labels": false, "title": null}},
        "y": {"datum": 5.979, "type": "quantitative", "scale": {"domain": [-5.706, 5.503], "nice": false, "zero": false}, "axis": {"orient": "right", "values": [-5, -4, -3, -2, -1, 0, 1, 2, 3, 4, 5], "tickSize": -11, "labels": false, "title": null}},
        "text": {"field": "label"}
      }
    },
    {
      "data": {"values": [{"label": "Min V: -4.9 mJy/beam"}]},
      "mark": {"type": "text", "align": "left", "baseline": "alphabetic", "font": "Liberation Sans", "fontSize": 39, "color": "#111111"},
      "encoding": {
        "x": {"datum": 5.613, "type": "quantitative", "scale": {"domain": [-5.596, 5.613], "reverse": true, "nice": false, "zero": false}, "axis": null},
        "y": {"datum": -8.413, "type": "quantitative", "scale": {"domain": [-5.706, 5.503], "nice": false, "zero": false}, "axis": null},
        "text": {"field": "label"}
      }
    },
    {
      "data": {"values": [{"label": "|V|/I (Vmin): 0.41 %"}]},
      "mark": {"type": "text", "align": "left", "baseline": "alphabetic", "font": "Liberation Sans", "fontSize": 39, "color": "#111111"},
      "encoding": {
        "x": {"datum": -0.935, "type": "quantitative", "scale": {"domain": [-5.596, 5.613], "reverse": true, "nice": false, "zero": false}, "axis": null},
        "y": {"datum": -8.413, "type": "quantitative", "scale": {"domain": [-5.706, 5.503], "nice": false, "zero": false}, "axis": null},
        "text": {"field": "label"}
      }
    },
    {
      "data": {"values": [{"label": "Max I: 1192 mJy/beam"}]},
      "mark": {"type": "text", "align": "left", "baseline": "alphabetic", "font": "Liberation Sans", "fontSize": 39, "color": "#111111"},
      "encoding": {
        "x": {"datum": 5.613, "type": "quantitative", "scale": {"domain": [-5.596, 5.613], "reverse": true, "nice": false, "zero": false}, "axis": null},
        "y": {"datum": -9.313, "type": "quantitative", "scale": {"domain": [-5.706, 5.503], "nice": false, "zero": false}, "axis": null},
        "text": {"field": "label"}
      }
    },
    {
      "data": {"values": [{"label": "Contour (%): \u22120.04 0.04 0.16 0.64 2.55 10.24 40.96"}]},
      "mark": {"type": "text", "align": "left", "baseline": "alphabetic", "font": "Liberation Sans", "fontSize": 29, "color": "#111111"},
      "encoding": {
        "x": {"datum": 5.613, "type": "quantitative", "scale": {"domain": [-5.596, 5.613], "reverse": true, "nice": false, "zero": false}, "axis": null},
        "y": {"datum": -9.725, "type": "quantitative", "scale": {"domain": [-5.706, 5.503], "nice": false, "zero": false}, "axis": null},
        "text": {"field": "label"}
      }
    },
    {
      "data": {"values": [{"label": "June 1999"}]},
      "mark": {"type": "text", "align": "left", "baseline": "alphabetic", "font": "Liberation Sans", "fontSize": 84, "color": "#0a32c8"},
      "encoding": {
        "x": {"datum": -4.164, "type": "quantitative", "scale": {"domain": [-5.596, 5.613], "reverse": true, "nice": false, "zero": false}, "axis": null},
        "y": {"datum": -9.49, "type": "quantitative", "scale": {"domain": [-5.706, 5.503], "nice": false, "zero": false}, "axis": null},
        "text": {"field": "label"}
      }
    },
    {
      "data": {"values": [{"lo": 0.8, "hi": 1.394}]},
      "mark": {"type": "rect", "color": "#faf56e", "clip": false},
      "encoding": {
        "x": {"datum": -6.017, "type": "quantitative", "scale": {"domain": [-5.596, 5.613], "reverse": true, "nice": false, "zero": false}, "axis": null},
        "x2": {"datum": -6.711},
        "y": {"field": "lo", "type": "quantitative", "scale": {"domain": [-4.933, 1.394], "nice": false, "zero": false}, "axis": {"orient": "right", "offset": 97, "values": [1.2, 0.8, 0.4, 0, -0.4, -0.8, -1.2, -1.6, -2.0, -2.4, -2.8, -3.2, -3.6, -4.0, -4.4, -4.8], "tickSize": 12, "labelPadding": 6, "labelFontSize": 28, "labelExpr": "(datum.value < 0 ? '-' : '') + format(abs(datum.value), '.1f')", "title": "V, mJy", "titleFontSize": 38, "titleAngle": 270, "titleX": 133, "titleY": 478, "titleAlign": "center", "titleBaseline": "middle"}},
        "y2": {"field": "hi"}
      }
    },
    {
      "data": {"values": [{"lo": -4.933, "hi": -0.8}]},
      "mark": {"type": "rect", "clip": false, "color": {"gradient": "linear", "x1": 0, "y1": 1, "x2": 0, "y2": 0, "stops": [{"offset": 0, "color": "#0000e8"}, {"offset": 0.129, "color": "#0a1eec"}, {"offset": 0.226, "color": "#143cee"}, {"offset": 0.3225, "color": "#1e5af0"}, {"offset": 0.419, "color": "#2880f0"}, {"offset": 0.516, "color": "#37a5f0"}, {"offset": 0.613, "color": "#46c8f5"}, {"offset": 0.71, "color": "#52e4f8"}, {"offset": 1, "color": "#74f8fc"}]}},
      "encoding": {
        "x": {"datum": -6.017, "type": "quantitative", "scale": {"domain": [-5.596, 5.613], "reverse": true, "nice": false, "zero": false}, "axis": null},
        "x2": {"datum": -6.711},
        "y": {"field": "lo", "type": "quantitative", "scale": {"domain": [-4.933, 1.394], "nice": false, "zero": false}, "axis": {"orient": "right", "offset": 97, "values": [1.2, 0.8, 0.4, 0, -0.4, -0.8, -1.2, -1.6, -2.0, -2.4, -2.8, -3.2, -3.6, -4.0, -4.4, -4.8], "tickSize": -10, "labels": false, "title": null}},
        "y2": {"field": "hi"}
      }
    },
    {
      "data": {"values": [{"lo": -4.933, "hi": 1.394}]},
      "mark": {"type": "rect", "clip": false, "fillOpacity": 0, "stroke": "black", "strokeWidth": 2.5},
      "encoding": {
        "x": {"datum": -6.017, "type": "quantitative", "scale": {"domain": [-5.596, 5.613], "reverse": true, "nice": false, "zero": false}, "axis": null},
        "x2": {"datum": -6.711},
        "y": {"field": "lo", "type": "quantitative", "scale": {"domain": [-4.933, 1.394], "nice": false, "zero": false}, "axis": null},
        "y2": {"field": "hi"}
      }
    }
  ],
  "resolve": {"scale": {"y": "independent"}, "axis": {"x": "independent", "y": "independent"}}
}
